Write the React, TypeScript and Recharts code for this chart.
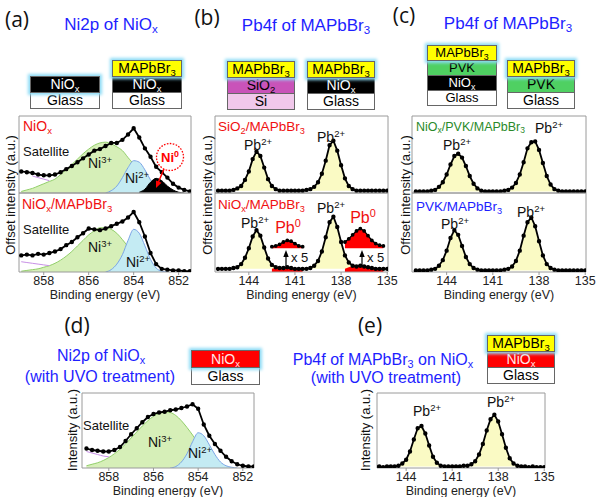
import React from 'react'
import { ComposedChart, Area, Line, XAxis, YAxis, ReferenceArea } from 'recharts'

const _ = null

// binding energy grids (eV)
const NI_BE = [859, 858.75, 858.5, 858.25, 858, 857.75, 857.5, 857.25, 857, 856.75, 856.5, 856.25, 856, 855.75, 855.5, 855.25, 855, 854.75, 854.5, 854.25, 854, 853.75, 853.5, 853.25, 853, 852.75, 852.5, 852.25, 852, 851.75, 851.5]
const PB_BE = [146, 145.75, 145.5, 145.25, 145, 144.75, 144.5, 144.25, 144, 143.75, 143.5, 143.25, 143, 142.75, 142.5, 142.25, 142, 141.75, 141.5, 141.25, 141, 140.75, 140.5, 140.25, 140, 139.75, 139.5, 139.25, 139, 138.75, 138.5, 138.25, 138, 137.75, 137.5, 137.25, 137, 136.75, 136.5, 136.25, 136, 135.75, 135.5, 135.25, 135]

const NI_TICKS = [858, 856, 854, 852]
const PB_TICKS = [144, 141, 138, 135]

// (a) top: NiOx
const A1_RAW = [28, 27, 26, 24, 23, 23, 24, 27, 31, 35, 40, 45, 50, 55, 57, 61, 65, 65, 69, 76, 84, 72, 58, 47, 34, 27, 20, 12, 7, 4, 2]
const A1_N3 = [2, 4, 6, 9, 12, 15, 18, 24, 30, 37, 44, 51, 57, 62, 65, 66, 64, 60, 55, 46, 37, 24, 12, 4, 0, _, _, _, _, _, _]
const A1_N2 = [_, _, _, _, _, _, _, _, _, _, _, _, _, _, _, 0, 3, 9, 20, 33, 42, 40, 30, 17, 7, 2, 0, _, _, _, _]
const A1_N0 = [_, _, _, _, _, _, _, _, _, _, _, _, _, _, _, _, _, _, _, _, _, 1, 5, 14, 19, 16, 9, 4, 1, 0, _]
const A1_SAT = [_, _, 22, 20, 18, 16, _, _, _, _, _, _, _, _, _, _, _, _, _, _, _, _, _, _, _, _, _, _, _, _, _]

// (a) bottom: NiOx/MAPbBr3
const A2_RAW = [21, 22, 21, 23, 22, 24, 26, 29, 34, 38, 44, 49, 55, 54, 53, 55, 58, 61, 64, 69, 76, 63, 45, 24, 10, 4, 3, 2, 2, 1, 1]
const A2_N3 = [1, 2, 3, 4, 6, 8, 11, 15, 20, 26, 33, 40, 47, 52, 56, 56, 54, 49, 41, 32, 22, 12, 5, 1, 0, _, _, _, _, _, _]
const A2_N2 = [_, _, _, _, _, _, _, _, _, _, _, _, _, _, _, 0, 3, 10, 22, 40, 54, 49, 33, 16, 5, 1, 0, _, _, _, _]
const A2_SAT = [13, 12, 11, 10, 9, 8, _, _, _, _, _, _, _, _, _, _, _, _, _, _, _, _, _, _, _, _, _, _, _, _, _]

// (d) NiOx with UVO
const D_RAW = [26, 24, 23, 22, 22, 24, 28, 36, 45, 53, 61, 68, 72, 74, 75, 77, 78, 80, 82, 85, 79, 58, 43, 32, 23, 15, 9, 5, 3, 2, 2]
const D_N3 = [3, 5, 7, 10, 14, 19, 25, 32, 40, 48, 56, 63, 69, 73, 75, 74, 70, 63, 54, 44, 33, 23, 15, 8, 4, 1, 0, _, _, _, _]
const D_N2 = [_, _, _, _, _, _, _, _, _, _, _, _, _, _, _, 0, 2, 8, 19, 35, 47, 43, 31, 18, 8, 3, 1, 0, _, _, _]
const D_SAT = [22, 20, 18, 16, 15, _, _, _, _, _, _, _, _, _, _, _, _, _, _, _, _, _, _, _, _, _, _, _, _, _, _]

// (b) Pb4f
const B1_RAW = [3, 3, 3, 3, 4, 6, 9, 17, 28, 44, 54, 48, 33, 18, 9, 5, 3, 3, 3, 3, 3, 3, 3, 4, 5, 8, 14, 25, 42, 62, 68, 55, 36, 19, 9, 5, 3, 3, 3, 3, 3, 3, 3, 3, 3]
const B2_RAW = [4, 4, 4, 4, 5, 6, 10, 18, 30, 45, 53, 46, 31, 17, 9, 6, 5, 5, 6, 5, 4, 4, 4, 4, 5, 8, 14, 26, 44, 63, 70, 57, 38, 21, 12, 8, 7, 8, 7, 6, 5, 4, 4, 4, 4]
const B2_PB0 = [_, _, _, _, _, _, _, _, _, _, _, _, _, _, 4, 5, 5, 5, 6, 5, 4, 4, 3, _, _, _, _, _, _, _, _, _, _, 4, 6, 7, 7, 8, 7, 6, 5, 4, 4, 3, _]
const B2_PB0_X5 = [_, _, _, _, _, _, _, _, _, _, _, _, _, _, 32, 33, 35, 38, 40, 39, 36, 33, 32, _, _, _, _, _, _, _, _, _, _, 38, 42, 47, 52, 55, 52, 46, 40, 36, 34, 33, _]
const X5_FLOOR = 30

// (c) Pb4f
const C1_RAW = [2, 2, 2, 2, 3, 4, 8, 14, 24, 37, 48, 51, 46, 35, 22, 12, 6, 3, 2, 2, 2, 2, 2, 3, 4, 7, 13, 24, 40, 58, 66, 67, 56, 39, 22, 11, 5, 3, 2, 2, 2, 2, 2, 2, 2]
const C2_RAW = [2, 2, 2, 2, 3, 4, 8, 15, 27, 43, 53, 47, 33, 19, 10, 5, 3, 2, 2, 2, 2, 2, 2, 3, 4, 7, 14, 27, 46, 63, 69, 58, 39, 21, 10, 5, 3, 2, 2, 2, 2, 2, 2, 2, 2]

// (e) Pb4f on UVO NiOx
const E_RAW = [2, 2, 1, 2, 2, 2, 3, 6, 11, 22, 38, 53, 56, 46, 30, 15, 7, 3, 2, 2, 2, 2, 2, 3, 3, 5, 9, 18, 32, 50, 65, 71, 62, 45, 27, 13, 6, 3, 2, 2, 1, 2, 1, 1, 1]

const FONT = '"Liberation Sans", Arial, sans-serif'
const BLUE = '#1e1eff'
const RED = '#f01010'

type Row = Record<string, any>
const rowsOf = (be: number[], cols: Record<string, (number | null)[]>): Row[] =>
  be.map((e, i) => {
    const r: Row = { be: e }
    for (const k of Object.keys(cols)) r[k] = cols[k][i]
    return r
  })

const a1Rows = rowsOf(NI_BE, { raw: A1_RAW, n3: A1_N3, n2: A1_N2, n0: A1_N0, sat: A1_SAT })
const a2Rows = rowsOf(NI_BE, { raw: A2_RAW, n3: A2_N3, n2: A2_N2, sat: A2_SAT })
const dRows = rowsOf(NI_BE, { raw: D_RAW, n3: D_N3, n2: D_N2, sat: D_SAT })
const b1Rows = rowsOf(PB_BE, { raw: B1_RAW })
const b2Rows = rowsOf(PB_BE, { raw: B2_RAW, pb0: B2_PB0, x5hi: B2_PB0_X5 }).map((r) => ({
  ...r,
  x5: r.x5hi == null ? null : [X5_FLOOR, r.x5hi],
}))
const c1Rows = rowsOf(PB_BE, { raw: C1_RAW })
const c2Rows = rowsOf(PB_BE, { raw: C2_RAW })
const eRows = rowsOf(PB_BE, { raw: E_RAW })

type PlotProps = {
  left: number
  top: number
  width: number
  height: number
  domain: [number, number]
  ticks?: number[]
  rows: Row[]
  children: React.ReactNode
}

function Plot({ left, top, width, height, domain, ticks, rows, children }: PlotProps) {
  const axisH = ticks ? 27 : 0
  return (
    <div style={{ position: 'absolute', left: left - 1, top: top - 1 }}>
      <ComposedChart
        width={width + 2}
        height={height + (ticks ? 1 : 2) + axisH}
        data={rows}
        margin={{ top: 1, right: 1, bottom: ticks ? 0 : 1, left: 1 }}
      >
        <XAxis
          type="number"
          dataKey="be"
          domain={domain}
          reversed
          allowDataOverflow
          hide={!ticks}
          ticks={ticks}
          interval={0}
          height={axisH}
          axisLine={false}
          tickSize={3}
          tickMargin={1}
          tickLine={{ stroke: '#999' }}
          tick={{ fontSize: 12.5, fill: '#222', fontFamily: FONT }}
          label={ticks ? { value: 'Binding energy (eV)', position: 'insideBottom', offset: 0, fontSize: 12.5, fill: '#222', fontFamily: FONT } : undefined}
        />
        <YAxis hide domain={[0, 100]} allowDataOverflow />
        {children}
        <ReferenceArea x1={domain[0]} x2={domain[1]} y1={0} y2={100} fill="none" stroke="#9a9a9a" ifOverflow="visible" />
      </ComposedChart>
    </div>
  )
}

const niSeries = () => [
  <Area key="n3" type="monotone" dataKey="n3" fill="#d6efb8" fillOpacity={1} stroke="#92cf6a" strokeWidth={1} isAnimationActive={false} />,
  <Area key="n2" type="monotone" dataKey="n2" fill="#c4ebf3" fillOpacity={1} stroke="#7aa4e6" strokeWidth={1} isAnimationActive={false} />,
  <Area key="n0" type="monotone" dataKey="n0" fill="#000" fillOpacity={1} stroke="#000" isAnimationActive={false} />,
  <Line key="sat" type="monotone" dataKey="sat" stroke="#c890e6" strokeWidth={1} dot={false} isAnimationActive={false} />,
  <Line key="raw" type="linear" dataKey="raw" stroke="#000" strokeWidth={1.8} dot={{ r: 1.3, fill: '#000', stroke: '#000' }} isAnimationActive={false} />,
]

const pbSeries = (base: number, withPb0 = false) => [
  <Area key="fit" type="monotone" dataKey="raw" baseValue={base} fill="#fafac4" fillOpacity={1} stroke="none" isAnimationActive={false} />,
  ...(withPb0
    ? [
        <Area key="pb0" type="monotone" dataKey="pb0" fill="#ff0000" fillOpacity={1} stroke="none" isAnimationActive={false} />,
        <Area key="x5" type="monotone" dataKey="x5" fill="#ff0000" fillOpacity={1} stroke="none" isAnimationActive={false} />,
        <Line key="x5hi" type="linear" dataKey="x5hi" stroke="#000" strokeWidth={1.4} dot={{ r: 1.2, fill: '#000', stroke: '#000' }} isAnimationActive={false} />,
      ]
    : []),
  <Line key="raw" type="linear" dataKey="raw" stroke="#000" strokeWidth={1.8} dot={{ r: 1.3, fill: '#000', stroke: '#000' }} isAnimationActive={false} />,
]

const Sub = ({ children }: { children: React.ReactNode }) => (
  <span style={{ fontSize: '0.68em', verticalAlign: '-0.3em', lineHeight: 0 }}>{children}</span>
)
const Sup = ({ children }: { children: React.ReactNode }) => (
  <span style={{ fontSize: '0.68em', verticalAlign: '0.55em', lineHeight: 0 }}>{children}</span>
)

type TxtProps = { x: number; y: number; size?: number; color?: string; left?: boolean; rotate?: boolean; bold?: boolean; family?: string; children: React.ReactNode }
function Txt({ x, y, size = 14, color = '#111', left, rotate, bold, family, children }: TxtProps) {
  return (
    <div
      style={{
        position: 'absolute',
        left: x,
        top: y,
        fontSize: size,
        color,
        fontWeight: bold ? 700 : 400,
        fontFamily: family ?? FONT,
        whiteSpace: 'nowrap',
        lineHeight: 1,
        transform: `translate(${left ? '0' : '-50%'}, -50%)${rotate ? ' rotate(-90deg)' : ''}`,
      }}
    >
      {children}
    </div>
  )
}

type Layer = { name: React.ReactNode; bg: string; color?: string }
function Stack({ x, y, w, h, layers, fs = 14 }: { x: number; y: number; w: number; h: number; layers: Layer[]; fs?: number }) {
  return (
    <div style={{ position: 'absolute', left: x, top: y, width: w }}>
      {layers.map((l, i) => (
        <div
          key={i}
          style={{
            position: 'relative',
            boxSizing: 'border-box',
            height: h,
            lineHeight: `${h - 2}px`,
            marginTop: i ? -1 : 0,
            background: l.bg,
            color: l.color ?? '#000',
            border: '1px solid #666',
            textAlign: 'center',
            fontSize: fs,
            fontFamily: FONT,
            boxShadow: i === 0 ? '0 0 3px 2px #8edcf6' : undefined,
            zIndex: i === 0 ? 1 : 0,
          }}
        >
          {l.name}
        </div>
      ))}
    </div>
  )
}

const MAPB = { name: <>MAPbBr<Sub>3</Sub></>, bg: '#ffff00' }
const NIOX = { name: <>NiO<Sub>x</Sub></>, bg: '#000', color: '#fff' }
const NIOX_UVO = { name: <>NiO<Sub>x</Sub></>, bg: '#ff0000', color: '#ffe8e8' }
const GLASS = { name: 'Glass', bg: '#fff' }
const SIO2 = { name: <>SiO<Sub>2</Sub></>, bg: '#c953b9' }
const SI = { name: 'Si', bg: '#f1c8eb' }
const PVK = { name: 'PVK', bg: '#4fd062' }

const Pb2 = () => <>Pb<Sup>2+</Sup></>

const NI_DOM_A: [number, number] = [851.45, 859.1]
const NI_DOM_D: [number, number] = [851.5, 859.2]
const PB_DOM_B: [number, number] = [134.95, 146.2]
const PB_DOM_C: [number, number] = [134.95, 146.25]
const PB_DOM_E: [number, number] = [134.95, 145.9]

export default function App() {
  return (
    <div style={{ position: 'absolute', left: 0, top: 0, width: 600, height: 497, background: '#fff', overflow: 'hidden', fontFamily: FONT }}>
      <style>{'.recharts-surface{overflow:visible}'}</style>
      {/* ---- (a) ---- */}
      <Plot left={19} top={116} width={172} height={77} domain={NI_DOM_A} rows={a1Rows}>{niSeries()}</Plot>
      <Plot left={19} top={193} width={172} height={79} domain={NI_DOM_A} ticks={NI_TICKS} rows={a2Rows}>{niSeries()}</Plot>
      {/* ---- (b) ---- */}
      <Plot left={215} top={116} width={173} height={77} domain={PB_DOM_B} rows={b1Rows}>{pbSeries(3)}</Plot>
      <Plot left={215} top={193} width={173} height={79} domain={PB_DOM_B} ticks={PB_TICKS} rows={b2Rows}>{pbSeries(4, true)}</Plot>
      {/* ---- (c) ---- */}
      <Plot left={412} top={116} width={174} height={77} domain={PB_DOM_C} rows={c1Rows}>{pbSeries(2)}</Plot>
      <Plot left={412} top={193} width={174} height={79} domain={PB_DOM_C} ticks={PB_TICKS} rows={c2Rows}>{pbSeries(2)}</Plot>
      {/* ---- (d) ---- */}
      <Plot left={82} top={393} width={172} height={75} domain={NI_DOM_D} ticks={NI_TICKS} rows={dRows}>{niSeries()}</Plot>
      {/* ---- (e) ---- */}
      <Plot left={377} top={393} width={168} height={75} domain={PB_DOM_E} ticks={PB_TICKS} rows={eRows}>{pbSeries(2)}</Plot>

      {/* annotations */}
      <svg width={600} height={497} style={{ position: 'absolute', left: 0, top: 0 }}>
        <circle cx={170} cy={157} r={13.5} fill="none" stroke="#f00" strokeWidth={1.3} strokeDasharray="1.6 1.4" />
        <line x1={164} y1={169} x2={158} y2={183} stroke="#f00" strokeWidth={1.5} />
        <polygon points="156,188 161.5,182.8 156,180.4" fill="#f00" />
        <line x1={286} y1={266} x2={286} y2={255} stroke="#000" strokeWidth={1.2} />
        <polygon points="286,250 283.3,257 288.7,257" fill="#000" />
        <line x1={362} y1={266} x2={362} y2={255} stroke="#000" strokeWidth={1.2} />
        <polygon points="362,250 359.3,257 364.7,257" fill="#000" />
      </svg>

      {/* panel (a) texts */}
      <Txt x={17} y={19} size={21} family='"Open Sans", sans-serif'>(a)</Txt>
      <Txt x={111} y={24} size={17} color={BLUE}>Ni2p of NiO<Sub>x</Sub></Txt>
      <Stack x={30} y={76} w={70} h={17} layers={[NIOX, GLASS]} />
      <Stack x={112} y={60} w={70} h={17} layers={[MAPB, NIOX, GLASS]} />
      <Txt x={10} y={195} size={13} rotate>Offset intensity (a.u.)</Txt>
      <Txt x={23} y={126} size={14} color={RED} left>NiO<Sub>x</Sub></Txt>
      <Txt x={23} y={151} size={13} left>Satellite</Txt>
      <Txt x={100} y={163} size={14}>Ni<Sup>3+</Sup></Txt>
      <Txt x={137} y={178} size={14}>Ni<Sup>2+</Sup></Txt>
      <Txt x={170} y={157} size={13} color="#f00" bold>Ni<Sup>0</Sup></Txt>
      <Txt x={22} y={204} size={14} color={RED} left>NiO<Sub>x</Sub>/MAPbBr<Sub>3</Sub></Txt>
      <Txt x={23} y={229} size={13} left>Satellite</Txt>
      <Txt x={100} y={247} size={14}>Ni<Sup>3+</Sup></Txt>
      <Txt x={138} y={262} size={14}>Ni<Sup>2+</Sup></Txt>

      {/* panel (b) texts */}
      <Txt x={207} y={17} size={21} family='"Open Sans", sans-serif'>(b)</Txt>
      <Txt x={306} y={25} size={17} color={BLUE}>Pb4f of MAPbBr<Sub>3</Sub></Txt>
      <Stack x={227} y={61} w={68} h={17} layers={[MAPB, SIO2, SI]} />
      <Stack x={307} y={61} w={68} h={17} layers={[MAPB, NIOX, GLASS]} />
      <Txt x={207} y={195} size={13} rotate>Offset intensity (a.u.)</Txt>
      <Txt x={218} y={127} size={13.5} color={RED} left>SiO<Sub>2</Sub>/MAPbBr<Sub>3</Sub></Txt>
      <Txt x={258} y={145} size={14}><Pb2 /></Txt>
      <Txt x={331} y={137} size={14}><Pb2 /></Txt>
      <Txt x={218} y={205} size={13.5} color={RED} left>NiO<Sub>x</Sub>/MAPbBr<Sub>3</Sub></Txt>
      <Txt x={255} y={223} size={14}><Pb2 /></Txt>
      <Txt x={331} y={208} size={14}><Pb2 /></Txt>
      <Txt x={288} y={228} size={16} color={RED}>Pb<Sup>0</Sup></Txt>
      <Txt x={363} y={218} size={16} color={RED}>Pb<Sup>0</Sup></Txt>
      <Txt x={291} y={257} size={13} left>x 5</Txt>
      <Txt x={367} y={257} size={13} left>x 5</Txt>

      {/* panel (c) texts */}
      <Txt x={404} y={15} size={21} family='"Open Sans", sans-serif'>(c)</Txt>
      <Txt x={508} y={23} size={17} color={BLUE}>Pb4f of MAPbBr<Sub>3</Sub></Txt>
      <Stack x={427} y={45} w={70} h={16} fs={13} layers={[MAPB, PVK, NIOX, GLASS]} />
      <Stack x={507} y={60} w={68} h={17} layers={[MAPB, PVK, GLASS]} />
      <Txt x={405} y={195} size={13} rotate>Offset intensity (a.u.)</Txt>
      <Txt x={416} y={127} size={12.5} color="#2a8a2a" left>NiO<Sub>x</Sub>/PVK/MAPbBr<Sub>3</Sub></Txt>
      <Txt x={457} y={145} size={14}><Pb2 /></Txt>
      <Txt x={549} y={128} size={14}><Pb2 /></Txt>
      <Txt x={416} y={207} size={13.5} color={BLUE} left>PVK/MAPbBr<Sub>3</Sub></Txt>
      <Txt x={455} y={224} size={14}><Pb2 /></Txt>
      <Txt x={531} y={212} size={14}><Pb2 /></Txt>

      {/* panel (d) texts */}
      <Txt x={77} y={325} size={21} family='"Open Sans", sans-serif'>(d)</Txt>
      <Txt x={101} y={356} size={16} color={BLUE}>Ni2p of NiO<Sub>x</Sub></Txt>
      <Txt x={100} y={377} size={16} color={BLUE}>(with UVO treatment)</Txt>
      <Stack x={191} y={350} w={69} h={18} layers={[NIOX_UVO, GLASS]} />
      <Txt x={72} y={430} size={13} rotate>Intensity (a.u.)</Txt>
      <Txt x={83} y={425} size={13} left>Satellite</Txt>
      <Txt x={160} y={442} size={14}>Ni<Sup>3+</Sup></Txt>
      <Txt x={200} y={453} size={14}>Ni<Sup>2+</Sup></Txt>

      {/* panel (e) texts */}
      <Txt x={370} y={325} size={21} family='"Open Sans", sans-serif'>(e)</Txt>
      <Txt x={383} y={360} size={16} color={BLUE}>Pb4f of MAPbBr<Sub>3</Sub> on NiO<Sub>x</Sub></Txt>
      <Txt x={386} y={378} size={16} color={BLUE}>(with UVO treatment)</Txt>
      <Stack x={487} y={335} w={68} h={17} layers={[MAPB, NIOX_UVO, GLASS]} />
      <Txt x={365} y={430} size={13} rotate>Intensity (a.u.)</Txt>
      <Txt x={427} y={411} size={14}><Pb2 /></Txt>
      <Txt x={501} y={402} size={14}><Pb2 /></Txt>
    </div>
  )
}
